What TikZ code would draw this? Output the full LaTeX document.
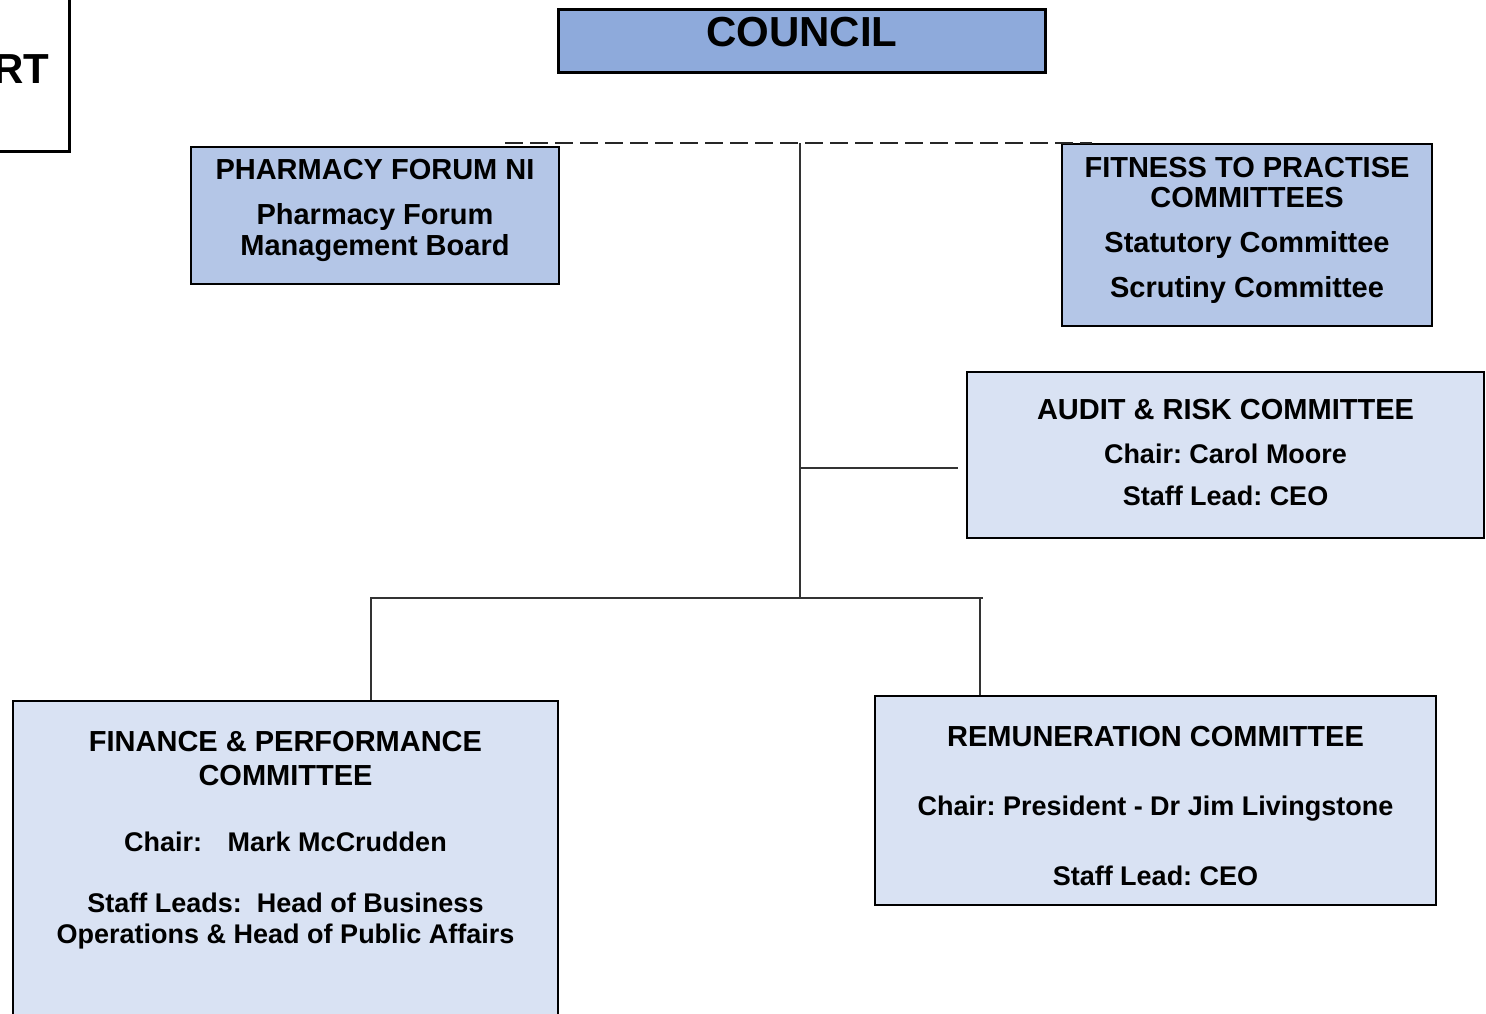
\documentclass[tikz,border=0pt]{standalone}
\usepackage{fontspec}
\setmainfont{Liberation Sans}
\usetikzlibrary{positioning}
\frenchspacing
\definecolor{councilblue}{HTML}{8EAADB}
\definecolor{midblue}{HTML}{B4C6E7}
\definecolor{paleblue}{HTML}{D9E2F3}
\newcommand{\smallline}[1]{{\fontsize{13.5}{15.5}\selectfont #1}}
\tikzset{
	boxnode/.style = {
		rectangle,
		draw=black,
		line width=1pt,
		inner sep=0pt,
		anchor=north west
	},
	box_council/.style = {
		boxnode,
		fill=councilblue,
		line width=1.3pt
	},
	box_mid/.style = {
		boxnode,
		fill=midblue
	},
	box_pale/.style = {
		boxnode,
		fill=paleblue
	},
	boxtext/.style = {
		align=center,
		inner sep=0pt,
		font=\fontsize{14.5}{15.5}\selectfont\bfseries
	},
	bigtext/.style = {
		boxtext,
		font=\fontsize{21}{25}\selectfont\bfseries
	},
	link/.style = {
		draw=black!80,
		line width=0.6pt
	},
	dashlink/.style = {
		draw=black!85,
		line width=0.9pt,
		dash pattern=on 9pt off 3.5pt
	}
}
\begin{document}
\begin{tikzpicture}[x=0.5pt,y=-0.5pt]
\useasboundingbox (0,0) rectangle (1486,1013);

% title box, cut by the page edge
\node [boxnode, anchor=south east, line width=1.5pt, minimum width=120pt, minimum height=120pt] (title) at (71,153) {};
\node [bigtext, anchor=base east] (titlelabel) at (50,83) {ART};

% boxes
\node [box_council, minimum width=243.5pt, minimum height=31.5pt] (council) at (557,8) {};
\node [box_mid, minimum width=184pt, minimum height=68.5pt] (pf) at (190,146) {};
\node [box_mid, minimum width=185pt, minimum height=91pt] (ftp) at (1061,143) {};
\node [box_pale, minimum width=258.5pt, minimum height=83pt] (audit) at (966,371) {};
\node [box_pale, minimum width=272.5pt, minimum height=170pt] (fin) at (12,700) {};
\node [box_pale, minimum width=280.5pt, minimum height=104.5pt] (remun) at (874,695) {};

% texts
\node [bigtext, below=4.5pt of council.north] (councillabel) {COUNCIL};
\node [boxtext, below=6.5pt of pf.north] (pflabel) {PHARMACY FORUM NI\\[7pt]
	Pharmacy Forum\\ Management Board};
\node [boxtext, below=7pt of ftp.north] (ftplabel) {FITNESS TO PRACTISE\\[-0.5pt]
	COMMITTEES\\[7pt] Statutory Committee\\[7pt] Scrutiny Committee};
\node [boxtext, below=14pt of audit.north] (auditlabel) {AUDIT \& RISK COMMITTEE\\[6.5pt]
	\smallline{Chair: Carol Moore}\\[5.5pt] \smallline{Staff Lead: CEO}};
\node [boxtext, below=15.5pt of fin.north] (finlabel) {FINANCE \& PERFORMANCE\\[1.5pt]
	COMMITTEE\\[17.5pt] \smallline{Chair:\hspace{9pt} Mark McCrudden}\\[15pt]
	\smallline{Staff Leads:\ \ Head of Business}\\ \smallline{Operations \& Head of Public Affairs}};
\node [boxtext, below=15.5pt of remun.north] (remunlabel) {REMUNERATION COMMITTEE\\[19pt]
	\smallline{Chair: President - Dr Jim Livingstone}\\[19.5pt] \smallline{Staff Lead: CEO}};

% connectors
\coordinate (dashl) at (505,143);
\coordinate (dashr) at (1092,143);
\coordinate (spinetop) at (800,143);
\coordinate (spinefoot) at (800,598);
\coordinate (auditlink) at (800,468);
\coordinate (busl) at (370,598);
\coordinate (busr) at (983,598);
\coordinate (findrop) at (371,598);
\coordinate (remdrop) at (980,598);

\draw [dashlink] (dashl) -- (dashr);
\draw [link] (spinetop) -- (spinefoot);
\draw [link] (auditlink) -- ([xshift=-4pt]audit.west |- auditlink);
\draw [link] (busl) -- (busr);
\draw [link] (findrop) -- (findrop |- fin.north);
\draw [link] (remdrop) -- (remdrop |- remun.north);
\end{tikzpicture}
\end{document}
